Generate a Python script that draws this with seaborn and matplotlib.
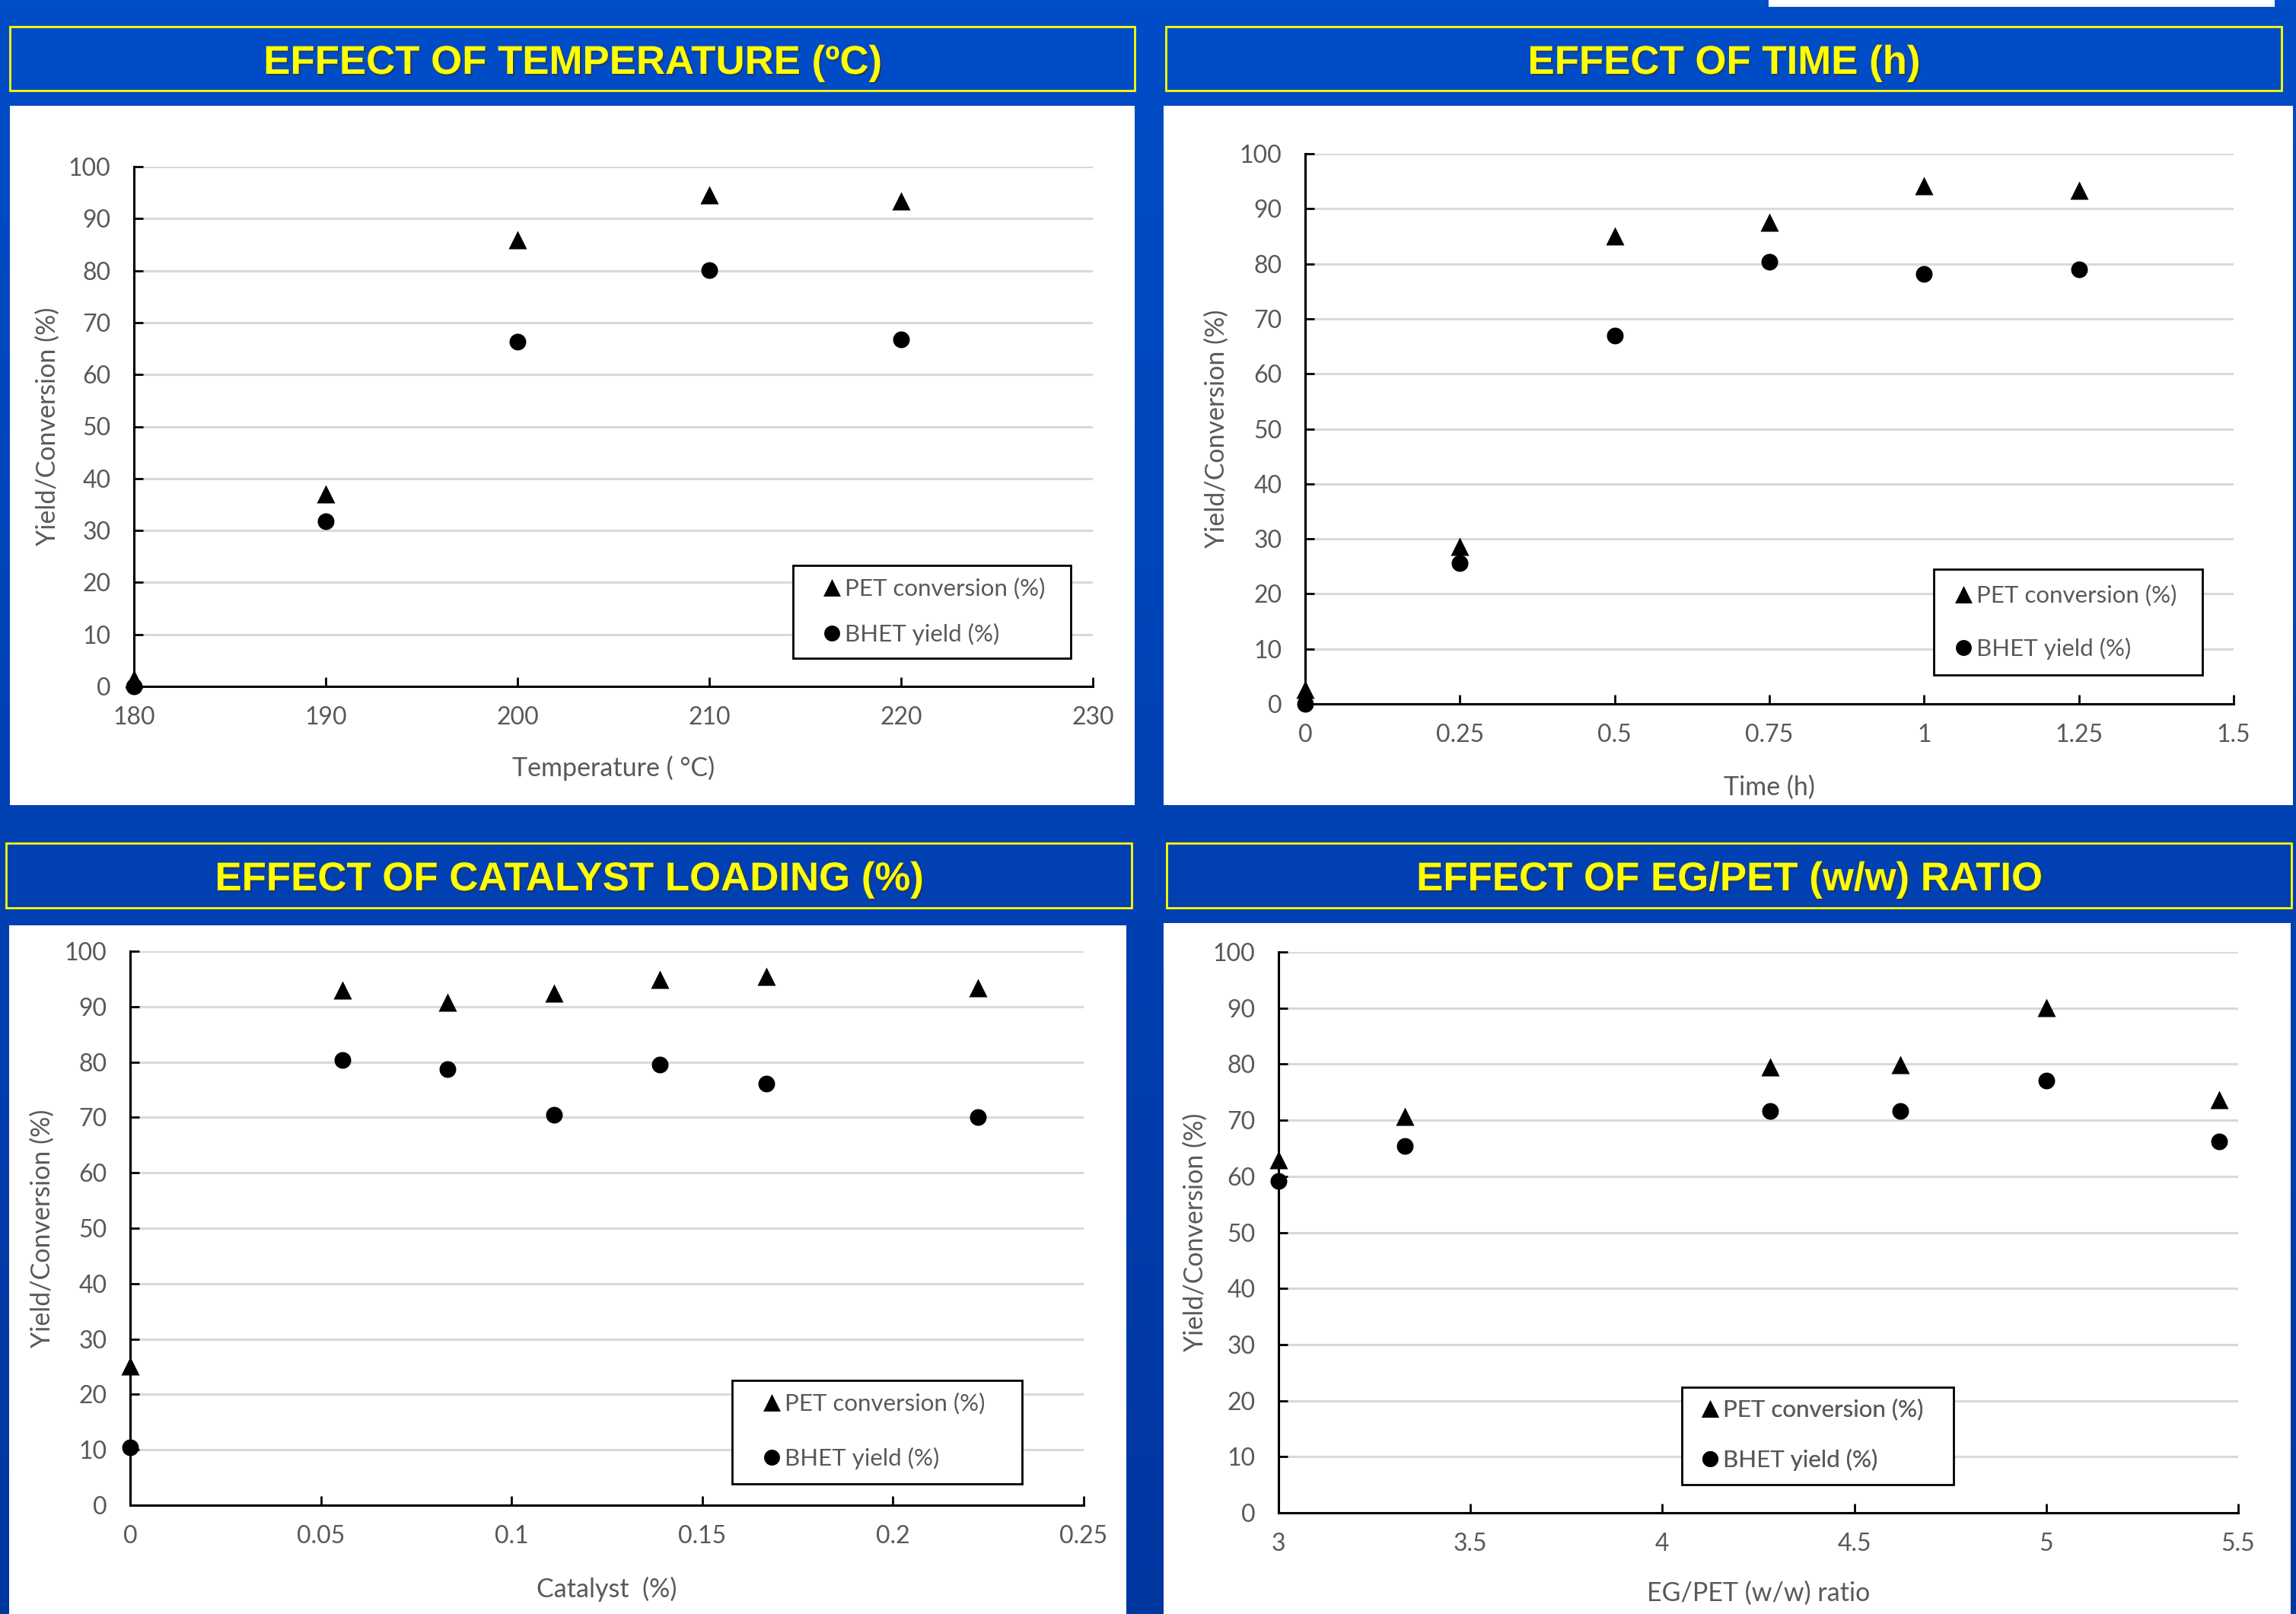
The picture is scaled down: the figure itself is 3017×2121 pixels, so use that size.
import numpy as np
import matplotlib
matplotlib.use("Agg")
import matplotlib.pyplot as plt
import matplotlib.patheffects as pe
from matplotlib.patches import Rectangle
from matplotlib.colors import LinearSegmentedColormap
from matplotlib.ticker import FuncFormatter
import seaborn as sns

# ---- data ----
temp_x = [180, 190, 200, 210, 220]
temp_pet = [1.5, 37.0, 86.0, 94.6, 93.4]
temp_bhet = [0.0, 31.8, 66.3, 80.1, 66.8]

time_x = [0, 0.25, 0.5, 0.75, 1.0, 1.25]
time_pet = [2.6, 28.6, 85.0, 87.6, 94.2, 93.3]
time_bhet = [0.0, 25.6, 67.0, 80.4, 78.1, 79.0]

cat_x = [0, 0.0556, 0.0833, 0.1111, 0.1389, 0.1667, 0.2222]
cat_pet = [25.2, 93.0, 90.8, 92.5, 94.9, 95.4, 93.4]
cat_bhet = [10.4, 80.3, 78.7, 70.5, 79.5, 76.1, 70.1]

ratio_x = [3.0, 3.33, 4.28, 4.62, 5.0, 5.45]
ratio_pet = [63.0, 70.7, 79.5, 79.9, 90.1, 73.7]
ratio_bhet = [59.2, 65.4, 71.6, 71.6, 77.1, 66.2]

pet_label = "PET conversion (%)"
bhet_label = "BHET yield (%)"
y_label = "Yield/Conversion (%)"

W, H = 3017, 2121
GREY = "#595959"

sns.set_style("white")
plt.rcParams["font.family"] = ["Lato", "DejaVu Sans"]

fig = plt.figure(figsize=(W / 100, H / 100), dpi=100)

# background (pixel coordinates)
bg = fig.add_axes([0, 0, 1, 1], zorder=-10)
bg.set_xlim(0, W)
bg.set_ylim(H, 0)
bg.axis("off")
cmap = LinearSegmentedColormap.from_list("bgblue", ["#004DC8", "#0036A0"])
bg.imshow(np.linspace(0, 1, 256).reshape(-1, 1), cmap=cmap, extent=[0, W, H, 0], aspect="auto")
bg.add_patch(Rectangle((2324, 0), 665, 9, facecolor="white", edgecolor="none"))

# overlay for legend boxes
ov = fig.add_axes([0, 0, 1, 1], zorder=10)
ov.set_xlim(0, W)
ov.set_ylim(H, 0)
ov.axis("off")
ov.patch.set_alpha(0)

panels = [
    dict(x=temp_x, pet=temp_pet, bhet=temp_bhet, title="EFFECT OF TEMPERATURE (ºC)",
         xlabel="Temperature ( °C)", xlim=(180, 230), step=10,
         axes=(176, 219, 1436, 902), white=(13, 139, 1491, 1058),
         bar=(13, 35, 1491, 119), base=97,
         box=(1042, 743, 1407, 865), mx=1092, rows=(774, 833),
         ylab=-0.077, xlab=-0.133),
    dict(x=time_x, pet=time_pet, bhet=time_bhet, title="EFFECT OF TIME (h)",
         xlabel="Time (h)", xlim=(0, 1.5), step=0.25,
         axes=(1715, 202, 2935, 925), white=(1529, 139, 3013, 1058),
         bar=(1532, 35, 2998, 119), base=97,
         box=(2541, 748, 2894, 887), mx=2579, rows=(783, 852),
         ylab=-0.082, xlab=-0.129),
    dict(x=cat_x, pet=cat_pet, bhet=cat_bhet, title="EFFECT OF CATALYST LOADING (%)",
         xlabel="Catalyst  (%)", xlim=(0, 0.25), step=0.05,
         axes=(171, 1250, 1424, 1978), white=(12, 1216, 1480, 2121),
         bar=(8, 1108, 1487, 1193), base=1170,
         box=(962, 1814, 1343, 1950), mx=1013, rows=(1845, 1916),
         ylab=-0.079, xlab=-0.129),
    dict(x=ratio_x, pet=ratio_pet, bhet=ratio_bhet, title="EFFECT OF EG/PET (w/w) RATIO",
         xlabel="EG/PET (w/w) ratio", xlim=(3, 5.5), step=0.5,
         axes=(1680, 1251, 2941, 1988), white=(1529, 1213, 3010, 2121),
         bar=(1533, 1108, 3011, 1193), base=1170,
         box=(2210, 1823, 2567, 1951), mx=2246, rows=(1853, 1918),
         ylab=-0.074, xlab=-0.122),
]

LEG_FS = 22.5
fs_px = LEG_FS * 100 / 72

for p in panels:
    # white card and title bar
    l, t, r, b = p["white"]
    bg.add_patch(Rectangle((l, t), r - l, b - t, facecolor="white", edgecolor="none"))
    l, t, r, b = p["bar"]
    bg.add_patch(Rectangle((l, t), r - l, b - t, facecolor="none", edgecolor="#FFFF00", linewidth=2))
    bg.text((l + r) / 2, p["base"], p["title"], ha="center", va="baseline",
            fontsize=38, fontweight="bold", color="#FFFF00",
            family=["Liberation Sans Narrow", "Liberation Sans", "DejaVu Sans"],
            path_effects=[pe.withSimplePatchShadow(offset=(1.5, -1.5), shadow_rgbFace="#333333", alpha=0.6)])

    l, t, r, b = p["axes"]
    ax = fig.add_axes([l / W, 1 - b / H, (r - l) / W, (b - t) / H])
    ax.patch.set_alpha(0)
    sns.scatterplot(x=p["x"], y=p["pet"], marker="^", color="black", s=300, linewidth=0,
                    label=pet_label, ax=ax, clip_on=False, zorder=3)
    sns.scatterplot(x=p["x"], y=p["bhet"], marker="o", color="black", s=250, linewidth=0,
                    label=bhet_label, ax=ax, clip_on=False, zorder=3)
    if ax.get_legend() is not None:
        ax.get_legend().remove()

    x0, x1 = p["xlim"]
    ax.set_xlim(x0, x1)
    ax.set_ylim(0, 100)
    ax.set_xticks(np.arange(x0, x1 + p["step"] / 2, p["step"]))
    ax.set_yticks(np.arange(0, 101, 10))
    ax.xaxis.set_major_formatter(FuncFormatter(lambda v, _: f"{v:g}"))
    ax.yaxis.grid(True, color="#D9D9D9", linewidth=2.2)
    ax.xaxis.grid(False)
    ax.set_axisbelow(True)
    sns.despine(ax=ax)
    for s in ("left", "bottom"):
        ax.spines[s].set_color("black")
        ax.spines[s].set_linewidth(2.2)
    ax.tick_params(axis="both", direction="in", length=8.5, width=2, color="black",
                   labelsize=23, labelcolor=GREY, left=True, bottom=True)
    ax.tick_params(axis="y", pad=22)
    ax.tick_params(axis="x", pad=19)
    ax.set_xlabel(p["xlabel"], fontsize=24.5, color=GREY)
    ax.set_ylabel(y_label, fontsize=24.5, color=GREY)
    ax.xaxis.set_label_coords(0.5, p["xlab"])
    ax.yaxis.set_label_coords(p["ylab"], 0.5)

    # legend box
    l, t, r, b = p["box"]
    ov.add_patch(Rectangle((l, t), r - l, b - t, facecolor="white", edgecolor="black", linewidth=2))
    handles, labels = ax.get_legend_handles_labels()
    r1, r2 = p["rows"]
    spacing = (r2 - r1 - 0.9 * fs_px) / fs_px
    leg = ov.legend(handles, labels, loc="center left", frameon=False,
                    bbox_to_anchor=(p["mx"] - 0.5 * fs_px - 15, (r1 + r2) / 2), bbox_transform=ov.transData,
                    borderpad=0, handlelength=1.0, handletextpad=0.05, labelspacing=spacing,
                    scatterpoints=1, scatteryoffsets=[0.5], markerscale=0.95,
                    prop={"size": LEG_FS}, labelcolor=GREY)
    ov.add_artist(leg)

fig.savefig("out.png", dpi=100)
